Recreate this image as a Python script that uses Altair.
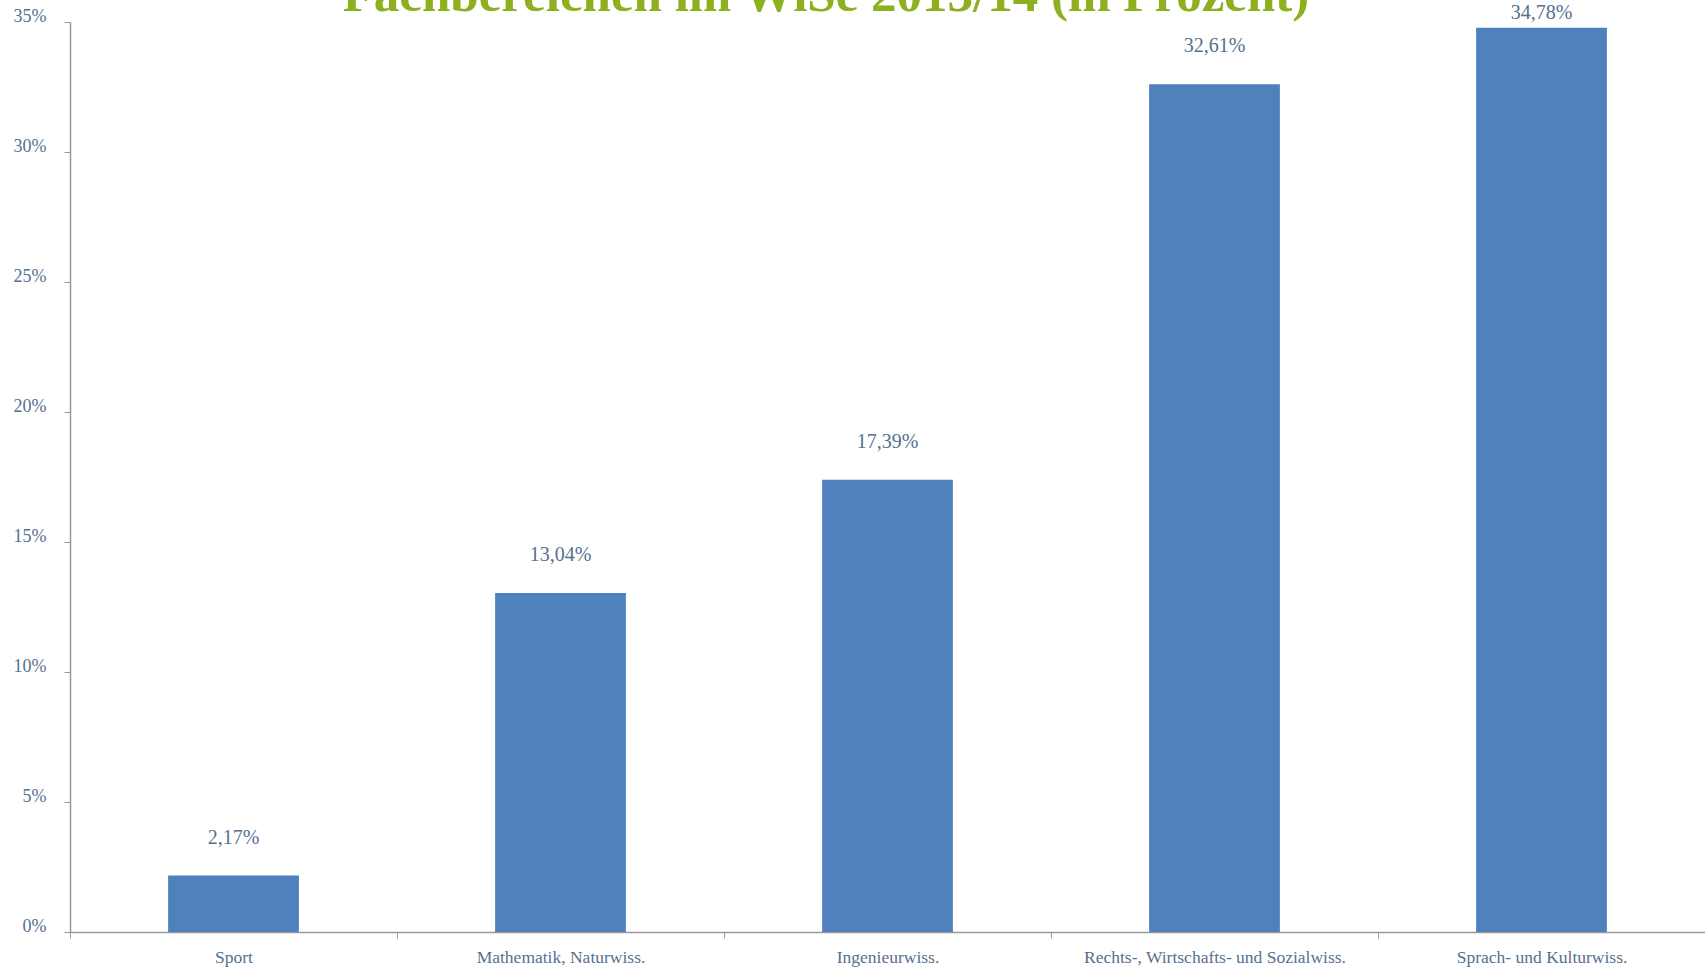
import altair as alt
import pandas as pd

categories = ["Sport", "Mathematik, Naturwiss.", "Ingenieurwiss.",
              "Rechts-, Wirtschafts- und Sozialwiss.", "Sprach- und Kulturwiss."]
values = [2.17, 13.04, 17.39, 32.61, 34.78]
title_text = "Fachbereichen im WiSe 2013/14 (in Prozent)"

df = pd.DataFrame({
    "cat": categories,
    "val": values,
    "lab": [f"{v:.2f}%".replace(".", ",") for v in values],
})

FONT = "Liberation Serif"
TXT = "#56708f"

x = alt.X("cat:N", sort=categories, title=None,
          scale=alt.Scale(paddingInner=0, paddingOuter=0),
          axis=alt.Axis(labelAngle=0, tickBand="extent", labelFont=FONT, labelFontSize=17.5,
                        labelColor=TXT, labelPadding=10, tickSize=6, domainColor="#999999",
                        tickColor="#999999", domainWidth=1.5, labelLimit=0))
y = alt.Y("val:Q", title=None,
          scale=alt.Scale(domain=[0, 35], nice=False),
          axis=alt.Axis(values=[0, 5, 10, 15, 20, 25, 30, 35], labelExpr="datum.value + '%'",
                        grid=False, labelFont=FONT, labelFontSize=18, labelColor=TXT,
                        labelOffset=-6, labelPadding=18, tickSize=6, domainColor="#999999",
                        tickColor="#999999", domainWidth=1.5))

bars = alt.Chart(df).mark_bar(color="#4f81bd", width=alt.RelativeBandSize(0.4)).encode(x=x, y=y)
labels = alt.Chart(df).transform_calculate(
    ly="min(datum.val + 1.46, 35.35)"
).mark_text(font=FONT, fontSize=20, color=TXT, baseline="middle").encode(
    x=alt.X("cat:N", sort=categories), y="ly:Q", text="lab:N")
title = alt.Chart(pd.DataFrame({"t": [title_text]})).mark_text(
    font=FONT, fontSize=51, fontWeight="bold", color="#8db01e", baseline="alphabetic", align="center"
).encode(text="t:N", x=alt.value(756), y=alt.value(-11))

chart = alt.layer(bars, labels, title).properties(
    width=1635, height=910,
    autosize=alt.AutoSizeParams(type="none"),
    padding={"left": 70, "top": 22, "right": 0, "bottom": 37},
).configure_view(stroke=None)

chart.save("out.html", embed_options={"renderer": "svg", "actions": False})
